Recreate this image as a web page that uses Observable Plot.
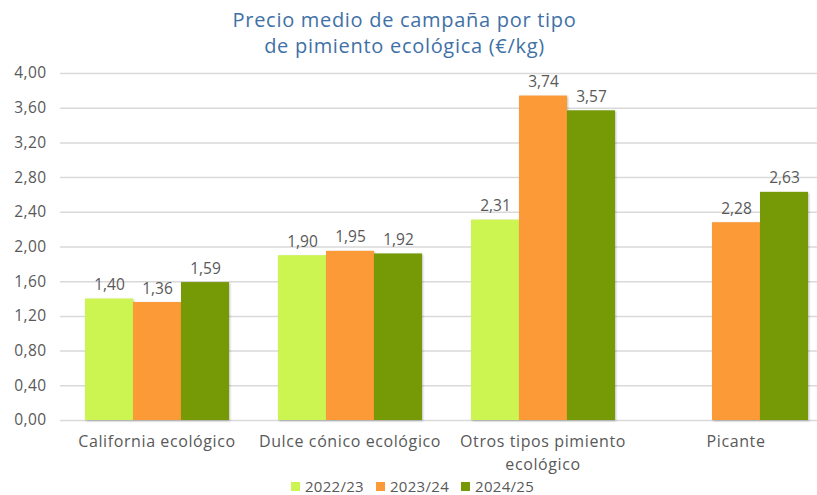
<!DOCTYPE html>
<html><head><meta charset="utf-8">
<script src="https://cdn.jsdelivr.net/npm/d3@7"></script>
<script src="https://cdn.jsdelivr.net/npm/@observablehq/plot@0.6"></script>
<style>
body{margin:0;background:#fff;font-family:"Open Sans",sans-serif;width:817px;height:495px;overflow:hidden;}
#title{width:817px;box-sizing:border-box;padding:7px 8px 0 0;text-align:center;color:#3f71a6;font-size:20px;letter-spacing:0.7px;line-height:26px;height:59px;}
#chart svg{display:block;}
#legend{display:flex;justify-content:center;align-items:center;gap:12px;padding-top:3px;padding-left:8px;font-size:15px;letter-spacing:0.3px;color:#595959;line-height:18px;}
#legend span.sw{display:inline-block;width:9px;height:9px;margin-right:5px;}
#legend .item{display:flex;align-items:center;}
.yax text{letter-spacing:0.4px;}
.fxax text{letter-spacing:0.6px;}
</style></head><body>
<div id="title">Precio medio de campaña por tipo<br>de pimiento ecológica (€/kg)</div>
<div id="chart"></div>
<div id="legend"></div>
<script>
const categories = ["California ecológico", "Dulce cónico ecológico", "Otros tipos pimiento ecológico", "Picante"];
const categoryLabels = ["California ecológico", "Dulce cónico ecológico", "Otros tipos pimiento\necológico", "Picante"];
const seasons = ["2022/23", "2023/24", "2024/25"];
const values2022_23 = [1.40, 1.90, 2.31, null];
const values2023_24 = [1.36, 1.95, 3.74, 2.28];
const values2024_25 = [1.59, 1.92, 3.57, 2.63];
const seasonColors = ["#cdf552", "#fb9a37", "#759a05"];
const yTicks = [0, 0.4, 0.8, 1.2, 1.6, 2.0, 2.4, 2.8, 3.2, 3.6, 4.0];

const series = [values2022_23, values2023_24, values2024_25];
const data = [];
categories.forEach((c, i) => {
  seasons.forEach((s, j) => {
    const v = series[j][i];
    if (v != null) data.push({category: c, season: s, value: v});
  });
});
const fmt = d => d.toFixed(2).replace(".", ",");
const labelOf = d => categoryLabels[categories.indexOf(d)];

const chart = Plot.plot({
  width: 817,
  height: 415,
  marginLeft: 59,
  marginRight: -15,
  marginTop: 14,
  marginBottom: 54,
  style: {fontFamily: "'Open Sans', sans-serif", fontSize: "15px", color: "#595959", background: "transparent"},
  fx: {domain: categories, padding: 0, label: null},
  x: {domain: seasons, paddingInner: 0, paddingOuter: 0.5, axis: null},
  y: {domain: [0, 4], label: null},
  color: {domain: seasons, range: seasonColors},
  marks: [
    Plot.ruleY(yTicks, {stroke: "#d9d9d9", strokeWidth: 1.5}),
    Plot.axisY(yTicks, {tickSize: 0, tickPadding: 14, tickFormat: fmt, label: null, fill: "#595959", fontSize: 15.5, className: "yax"}),
    Plot.barY(data, {fx: "category", x: "season", y: "value", fill: "season"}),
    Plot.text(data, {fx: "category", x: "season", y: "value", text: d => fmt(d.value), dy: -9, lineAnchor: "bottom", fill: "#595959", fontSize: 15.5}),
    Plot.axisFx({anchor: "bottom", tickSize: 0, tickPadding: 11, tickFormat: labelOf, label: null, lineHeight: 1.4, fill: "#595959", fontSize: 16, className: "fxax"})
  ]
});
chart.querySelectorAll('g[aria-label="bar"] rect').forEach(r => r.style.filter = "drop-shadow(1px 1px 1px rgba(0,0,0,0.25))");
document.getElementById("chart").appendChild(chart);

const legend = document.getElementById("legend");
seasons.forEach((s, i) => {
  const item = document.createElement("div");
  item.className = "item";
  const sw = document.createElement("span");
  sw.className = "sw";
  sw.style.background = seasonColors[i];
  item.appendChild(sw);
  item.appendChild(document.createTextNode(s));
  legend.appendChild(item);
});
</script>
</body></html>
